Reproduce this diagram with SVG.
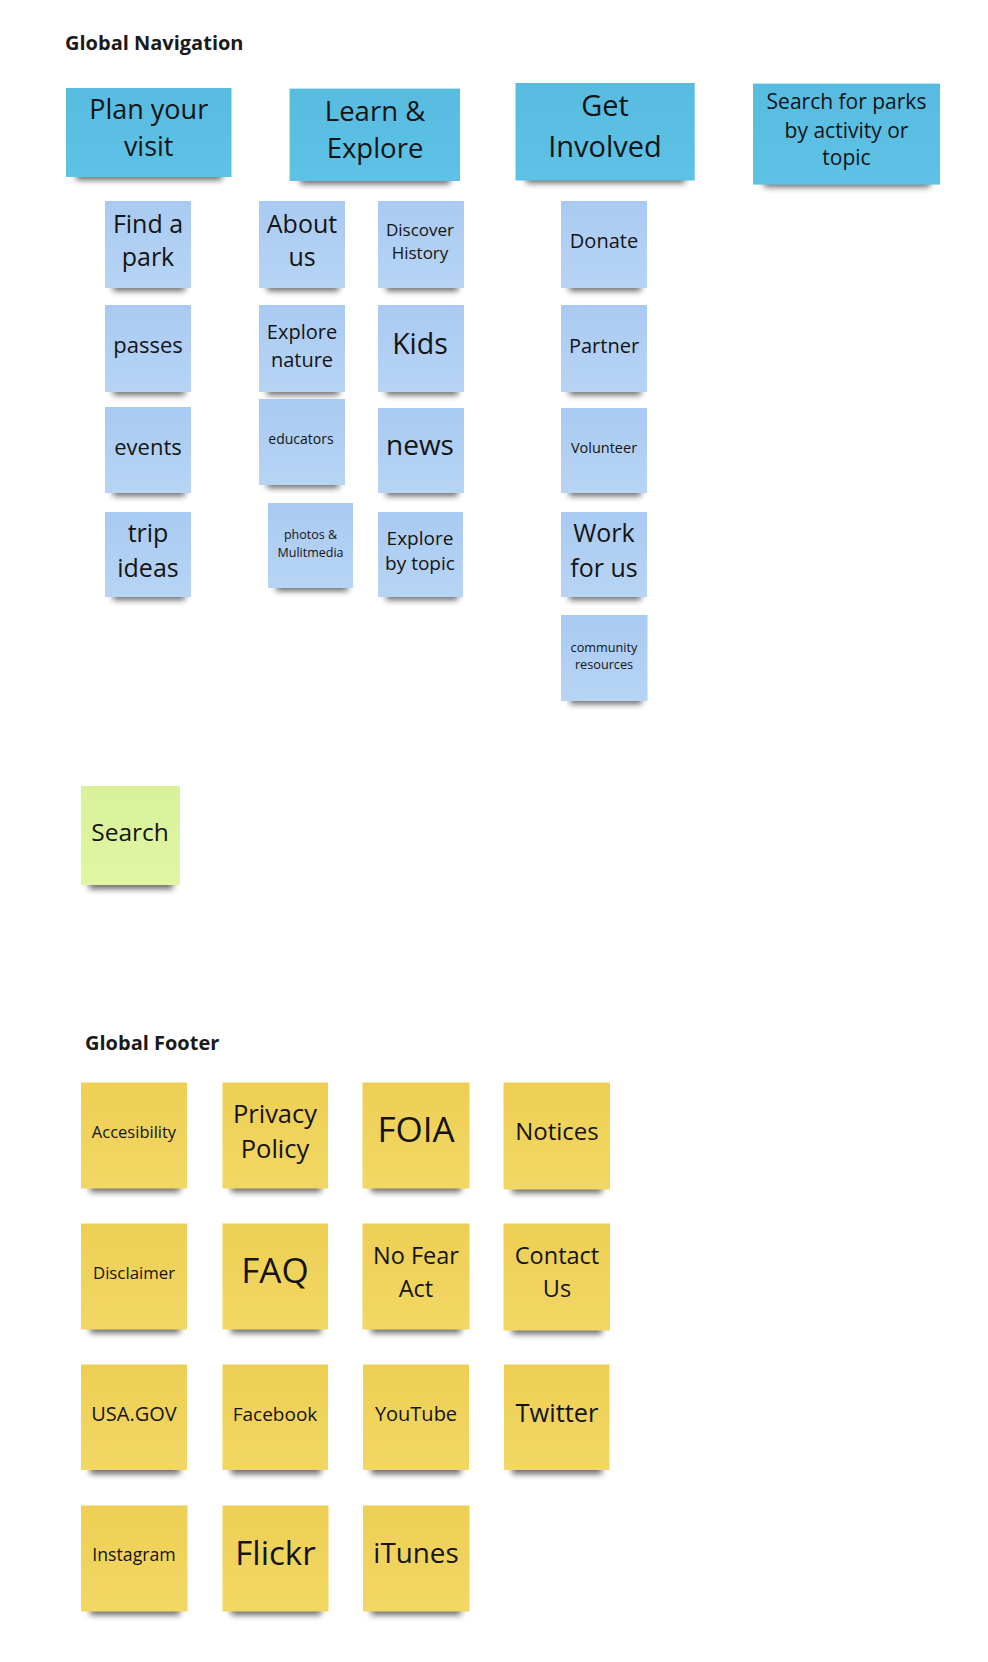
<svg xmlns="http://www.w3.org/2000/svg" width="988" height="1662" viewBox="0 0 988 1662">
<defs>
<filter id="sh" x="-20%" y="-100%" width="140%" height="300%"><feGaussianBlur stdDeviation="3"/></filter>
<linearGradient id="gDark" x1="0" y1="0" x2="0" y2="1"><stop offset="0" stop-color="#58bbe0"/><stop offset="1" stop-color="#5ec2e6"/></linearGradient>
<linearGradient id="gLight" x1="0" y1="0" x2="0" y2="1"><stop offset="0" stop-color="#a9caf2"/><stop offset="1" stop-color="#b7d4f4"/></linearGradient>
<linearGradient id="gGreen" x1="0" y1="0" x2="0" y2="1"><stop offset="0" stop-color="#d9f29a"/><stop offset="1" stop-color="#e1f5a3"/></linearGradient>
<linearGradient id="gYellow" x1="0" y1="0" x2="0" y2="1"><stop offset="0" stop-color="#eecf55"/><stop offset="1" stop-color="#f2d764"/></linearGradient>
</defs>
<style>
text{font-family:"Open Sans","Noto Sans","DejaVu Sans",sans-serif;fill:#141414;text-anchor:middle}
.title{font-weight:bold;text-anchor:start;fill:#1a1a1a;font-size:20px}
.shadow{fill:#000;opacity:0.6;filter:url(#sh)}
.dark{fill:url(#gDark)}
.light{fill:url(#gLight)}
.green{fill:url(#gGreen)}
.yellow{fill:url(#gYellow)}
</style>
<rect width="988" height="1662" fill="#ffffff"/>
<text class="title" x="65" y="50">Global Navigation</text>
<text class="title" x="85" y="1050">Global Footer</text>

<g id="plan-your-visit"><rect class="shadow" x="76" y="171" width="146" height="9"/><rect class="dark" x="66" y="88" width="165.5" height="89"/><text font-size="27" x="148.7" y="119">Plan your</text><text font-size="27" x="148.7" y="156">visit</text></g>
<g id="learn-explore"><rect class="shadow" x="300" y="175" width="150" height="9"/><rect class="dark" x="289.6" y="88.6" width="170.4" height="92.4"/><text font-size="27.5" x="375" y="121">Learn &amp;</text><text font-size="27.5" x="375" y="158">Explore</text></g>
<g id="get-involved"><rect class="shadow" x="526" y="174" width="159" height="9"/><rect class="dark" x="515.5" y="83" width="179.2" height="97.5"/><text font-size="29" x="605" y="116.4">Get</text><text font-size="29" x="605" y="157">Involved</text></g>
<g id="search-parks"><rect class="shadow" x="764" y="178" width="166" height="9"/><rect class="dark" x="753" y="83.6" width="187" height="101"/><text font-size="21" x="846.5" y="109">Search for parks</text><text font-size="21" x="846.5" y="137.6">by activity or</text><text font-size="21" x="846.5" y="165">topic</text></g>

<g id="find-a-park"><rect class="shadow" x="113" y="282" width="72" height="9"/><rect class="light" x="105" y="201" width="86" height="87"/><text font-size="25" x="148" y="232.5">Find a</text><text font-size="25" x="148" y="266">park</text></g>
<g id="passes"><rect class="shadow" x="113" y="386" width="72" height="9"/><rect class="light" x="105" y="305" width="86" height="87"/><text font-size="22" x="148" y="353">passes</text></g>
<g id="events"><rect class="shadow" x="113" y="487" width="72" height="9"/><rect class="light" x="105" y="407" width="86" height="86"/><text font-size="22" x="148" y="455">events</text></g>
<g id="trip-ideas"><rect class="shadow" x="113" y="591" width="72" height="9"/><rect class="light" x="105" y="512" width="86" height="85"/><text font-size="25" x="148" y="541.7">trip</text><text font-size="25" x="148" y="576.7">ideas</text></g>

<g id="about-us"><rect class="shadow" x="267" y="282" width="72" height="9"/><rect class="light" x="259" y="201" width="86" height="87"/><text font-size="25" x="302" y="232.5">About</text><text font-size="25" x="302" y="266">us</text></g>
<g id="explore-nature"><rect class="shadow" x="267" y="386" width="72" height="9"/><rect class="light" x="259" y="305" width="86" height="87"/><text font-size="20" x="302" y="339">Explore</text><text font-size="20" x="302" y="366.8">nature</text></g>
<g id="educators"><rect class="shadow" x="267" y="479" width="72" height="9"/><rect class="light" x="259" y="399" width="86" height="86"/><text font-size="14" x="301" y="444">educators</text></g>
<g id="photos-multimedia"><rect class="shadow" x="276" y="582" width="72" height="9"/><rect class="light" x="268" y="503" width="85" height="85"/><text font-size="12.5" x="310.5" y="539.3">photos &amp;</text><text font-size="12.5" x="310.5" y="556.7">Mulitmedia</text></g>

<g id="discover-history"><rect class="shadow" x="386" y="282" width="72" height="9"/><rect class="light" x="378" y="201" width="86" height="87"/><text font-size="17" x="420" y="236">Discover</text><text font-size="17" x="420" y="259.4">History</text></g>
<g id="kids"><rect class="shadow" x="386" y="386" width="72" height="9"/><rect class="light" x="378" y="305" width="86" height="87"/><text font-size="28.5" x="420" y="354">Kids</text></g>
<g id="news"><rect class="shadow" x="386" y="487" width="72" height="9"/><rect class="light" x="378" y="408" width="86" height="85"/><text font-size="28" x="420" y="455">news</text></g>
<g id="explore-by-topic"><rect class="shadow" x="386" y="591" width="72" height="9"/><rect class="light" x="378" y="512" width="85" height="85"/><text font-size="19" x="420" y="545">Explore</text><text font-size="19" x="420" y="570">by topic</text></g>

<g id="donate"><rect class="shadow" x="569" y="282" width="72" height="9"/><rect class="light" x="561" y="201" width="86" height="87"/><text font-size="20" x="604" y="248.3">Donate</text></g>
<g id="partner"><rect class="shadow" x="569" y="386" width="72" height="9"/><rect class="light" x="561" y="305" width="86" height="87"/><text font-size="20" x="604" y="353">Partner</text></g>
<g id="volunteer"><rect class="shadow" x="569" y="487" width="72" height="9"/><rect class="light" x="561" y="408" width="86" height="85"/><text font-size="14.5" x="604" y="452.7">Volunteer</text></g>
<g id="work-for-us"><rect class="shadow" x="569" y="591" width="72" height="9"/><rect class="light" x="561" y="512" width="86" height="85"/><text font-size="25" x="604" y="541.7">Work</text><text font-size="25" x="604" y="576.7">for us</text></g>
<g id="community-resources"><rect class="shadow" x="570" y="695" width="72" height="9"/><rect class="light" x="561" y="615" width="86.5" height="86"/><text font-size="12.7" x="604" y="651.7">community</text><text font-size="12.7" x="604" y="668.7">resources</text></g>

<g id="search"><rect class="shadow" x="89" y="879" width="84" height="10"/><rect class="green" x="81" y="786" width="99" height="99"/><text font-size="24.5" x="130" y="841">Search</text></g>

<g id="accesibility"><rect class="shadow" x="90" y="1182" width="90" height="10"/><rect class="yellow" x="81" y="1082.5" width="106" height="106"/><text font-size="16.5" x="134" y="1138.3">Accesibility</text></g>
<g id="privacy-policy"><rect class="shadow" x="231" y="1182" width="90" height="10"/><rect class="yellow" x="222.5" y="1082.5" width="105.5" height="106"/><text font-size="25.5" x="275" y="1123.3">Privacy</text><text font-size="25.5" x="275" y="1158.3">Policy</text></g>
<g id="foia"><rect class="shadow" x="371" y="1182" width="90" height="10"/><rect class="yellow" x="362.5" y="1082.5" width="107" height="106"/><text font-size="35" x="416" y="1142.3">FOIA</text></g>
<g id="notices"><rect class="shadow" x="512" y="1183" width="90" height="10"/><rect class="yellow" x="503.5" y="1082.5" width="106.5" height="107"/><text font-size="24" x="557" y="1140">Notices</text></g>

<g id="disclaimer"><rect class="shadow" x="90" y="1323" width="90" height="10"/><rect class="yellow" x="81" y="1223.5" width="106" height="106"/><text font-size="16.8" x="134" y="1279.3">Disclaimer</text></g>
<g id="faq"><rect class="shadow" x="231" y="1323" width="90" height="10"/><rect class="yellow" x="222.5" y="1223.5" width="105.5" height="106"/><text font-size="35" x="275" y="1283.3">FAQ</text></g>
<g id="no-fear-act"><rect class="shadow" x="371" y="1323" width="90" height="10"/><rect class="yellow" x="362.5" y="1223.5" width="107" height="106"/><text font-size="23.5" x="416" y="1264.3">No Fear</text><text font-size="23.5" x="416" y="1296.7">Act</text></g>
<g id="contact-us"><rect class="shadow" x="512" y="1324" width="90" height="10"/><rect class="yellow" x="503.5" y="1223.5" width="106.5" height="107"/><text font-size="23.5" x="557" y="1264.3">Contact</text><text font-size="23.5" x="557" y="1296.7">Us</text></g>

<g id="usa-gov"><rect class="shadow" x="90" y="1464" width="90" height="10"/><rect class="yellow" x="81" y="1364.5" width="106" height="105.5"/><text font-size="20" x="134" y="1420.7">USA.GOV</text></g>
<g id="facebook"><rect class="shadow" x="231" y="1464" width="90" height="10"/><rect class="yellow" x="222.5" y="1364.5" width="105.5" height="105.5"/><text font-size="19" x="275" y="1420.7">Facebook</text></g>
<g id="youtube"><rect class="shadow" x="371" y="1464" width="90" height="10"/><rect class="yellow" x="363" y="1364.5" width="106" height="105.5"/><text font-size="20" x="416" y="1420.7">YouTube</text></g>
<g id="twitter"><rect class="shadow" x="512" y="1464" width="90" height="10"/><rect class="yellow" x="504" y="1364.5" width="105.5" height="105.5"/><text font-size="25.4" x="557" y="1421.7">Twitter</text></g>

<g id="instagram"><rect class="shadow" x="90" y="1605" width="90" height="10"/><rect class="yellow" x="81" y="1505.5" width="106.5" height="106"/><text font-size="17.7" x="134" y="1561">Instagram</text></g>
<g id="flickr"><rect class="shadow" x="231" y="1605" width="90" height="10"/><rect class="yellow" x="222.5" y="1505.5" width="106" height="106"/><text font-size="33" x="275.5" y="1565">Flickr</text></g>
<g id="itunes"><rect class="shadow" x="371" y="1605" width="90" height="10"/><rect class="yellow" x="363" y="1505.5" width="106.5" height="106"/><text font-size="27.8" x="416" y="1563.3">iTunes</text></g>

<g id="connectors"></g>
</svg>
